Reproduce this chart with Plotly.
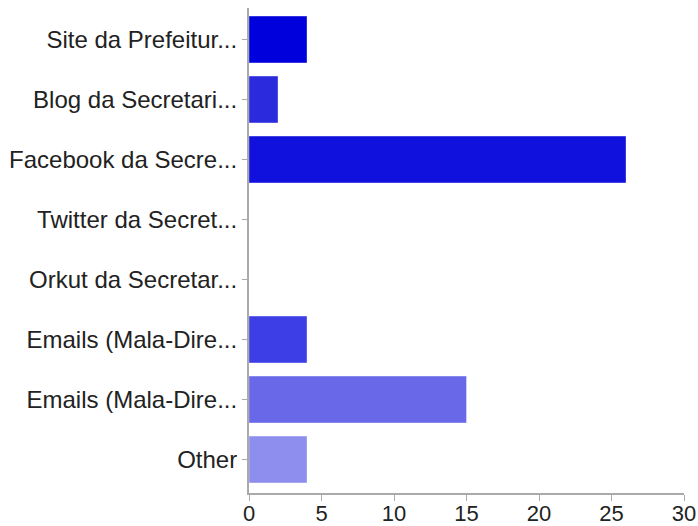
import plotly.graph_objects as go

categories = [
    "Site da Prefeitur...",
    "Blog da Secretari...",
    "Facebook da Secre...",
    "Twitter da Secret...",
    "Orkut da Secretar...",
    "Emails (Mala-Dire...",
    "Emails (Mala-Dire...",
    "Other",
]
values = [4, 2, 26, 0, 0, 4, 15, 4]
colors = ["#0000DD", "#2B2BDD", "#1111DD", "#1F1FE0", "#2F2FE3", "#3E3EE6", "#6868E9", "#8E8EEE"]
x_ticks = [0, 5, 10, 15, 20, 25, 30]

positions = list(range(len(categories)))

fig = go.Figure(go.Bar(
    x=values,
    y=positions,
    orientation="h",
    marker=dict(color=colors, line=dict(color="rgba(255,255,255,0.35)", width=1)),
    customdata=categories,
    hovertemplate="%{customdata}: %{x}<extra></extra>",
))

fig.update_layout(
    width=698,
    height=526,
    margin=dict(l=249, r=14, t=8, b=33),
    paper_bgcolor="white",
    plot_bgcolor="white",
    bargap=0.22,
    showlegend=False,
    font=dict(family="Liberation Sans, Arial, sans-serif", size=24, color="#222222"),
    xaxis=dict(
        automargin=False,
        range=[0, 30],
        tickvals=x_ticks,
        showgrid=False,
        zeroline=False,
        showline=True,
        linecolor="#AAAAAA",
        linewidth=2,
        ticks="outside",
        ticklen=6,
        tickcolor="#AAAAAA",
        tickwidth=1,
        tickfont=dict(size=22, color="#222222"),
        ticklabelstandoff=-6,
        ticklabeloverflow="allow",
        fixedrange=True,
    ),
    yaxis=dict(
        automargin=False,
        range=[7.558, -0.525],
        tickmode="array",
        tickvals=positions,
        ticktext=categories,
        showgrid=False,
        zeroline=False,
        showline=True,
        linecolor="#AAAAAA",
        linewidth=2,
        ticks="outside",
        ticklen=5,
        tickcolor="#AAAAAA",
        tickwidth=1,
        tickfont=dict(size=24, color="#222222"),
        fixedrange=True,
    ),
)

fig.write_html(
    "out.html",
    config={"displayModeBar": False},
    post_script="document.body.style.margin='0';document.body.style.overflow='hidden';",
)
